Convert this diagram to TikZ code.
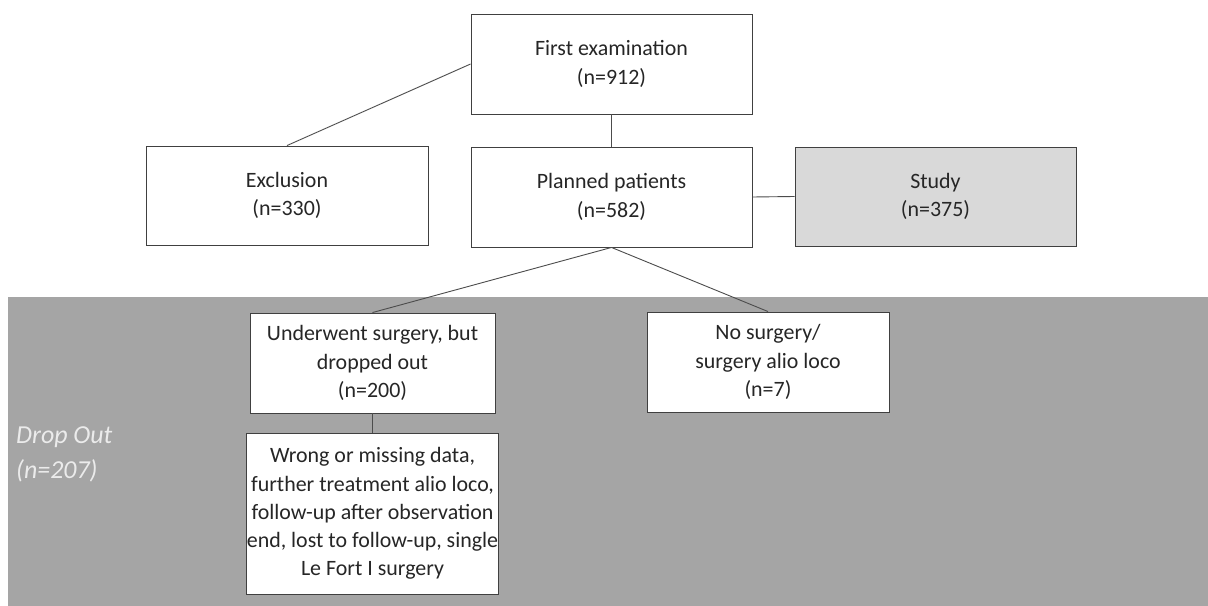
\documentclass[tikz,border=0pt]{standalone}
\usepackage{fontspec}
\setmainfont{Carlito}
\begin{document}
\begin{tikzpicture}[x=1bp,y=-1bp,
  box/.style={draw=black!75,line width=0.9bp,fill=white,text=black!85,align=center,
    inner sep=0pt,font=\fontsize{22}{28.3}\selectfont},
  link/.style={draw=black!70,line width=0.9bp}]
\useasboundingbox (0,0) rectangle (1208,606);
\fill[white] (0,0) rectangle (1208,606);
\fill[fill={rgb,255:red,165;green,165;blue,165}] (8,297) rectangle (1208,606);
\node[box,minimum width=281bp,minimum height=100bp] (first) at (611.5,64) {First examination\\(n=912)};
\node[box,minimum width=281bp,minimum height=100bp] (plan) at (611.5,197) {Planned patients\\(n=582)};
\node[box,minimum width=282bp,minimum height=99bp] (excl) at (287,195.5) {Exclusion\\(n=330)};
\node[box,minimum width=281bp,minimum height=99bp,fill={rgb,255:red,217;green,217;blue,217}] (study) at (935.5,196.5) {Study\\(n=375)};
\node[box,minimum width=245bp,minimum height=100bp] (under) at (372.5,363) {Underwent surgery, but\\dropped out\\(n=200)};
\node[box,minimum width=242bp,minimum height=100bp] (nosurg) at (768,362) {No surgery/\\surgery alio loco\\(n=7)};
\node[box,minimum width=245bp,minimum height=161bp] (wrong) at (372.5,513.5) {Wrong or missing data,\\further treatment alio loco,\\follow-up after observation\\end, lost to follow-up, single\\Le Fort I surgery};
\node[anchor=north west,align=left,text=white!92!black,inner sep=0pt,
  font=\fontsize{26}{36}\selectfont\itshape] (drop) at (16,426) {Drop Out\\(n=207)};
\draw[link] (first.west |- 0,64) -- (excl.north);
\draw[link] (first.south) -- (plan.north);
\draw[link] (plan.east) -- (study.west);
\draw[link] (plan.south) -- (under.north);
\draw[link] (plan.south) -- (nosurg.north);
\draw[link] (under.south) -- (wrong.north);
\end{tikzpicture}
\end{document}
